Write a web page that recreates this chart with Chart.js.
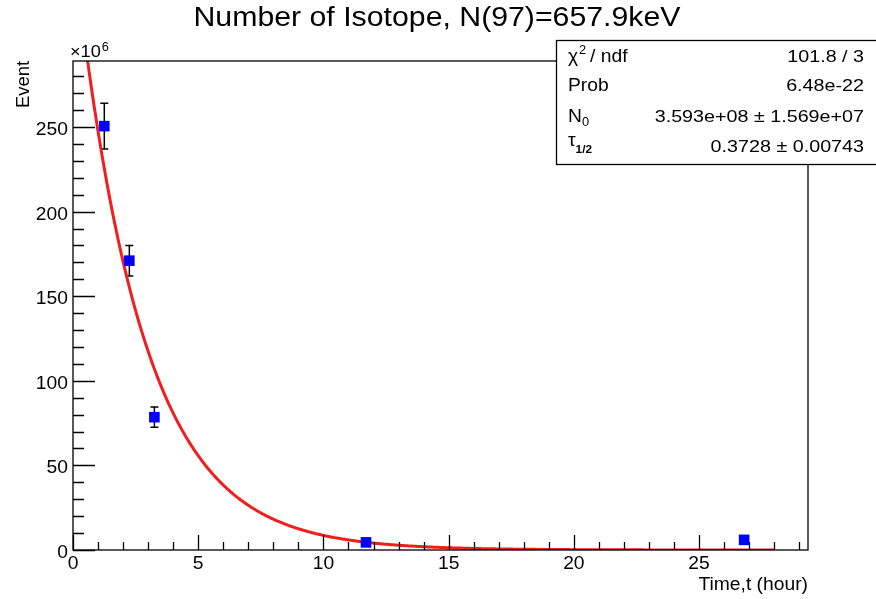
<!DOCTYPE html>
<html>
<head>
<meta charset="utf-8">
<script src="https://cdn.jsdelivr.net/npm/chart.js@4/dist/chart.umd.min.js"></script>
<style>
  html, body { margin: 0; padding: 0; background: #fff; }
  #wrap { width: 876px; height: 599px; position: relative; }
</style>
</head>
<body>
<div id="wrap"><canvas id="myChart" width="876" height="599"></canvas></div>
<script>
// measured points (time in hours, events in units of 1e6)
const timeHours = [1.25, 2.25, 3.25, 11.7, 26.8];
const events = [250.5, 171, 78.5, 4.5, 6];
const eventErr = [13.5, 9, 6, 0.8, 0.9];

// fit parameters from the stats box
const N0 = 359.3;          // 3.593e+08
const lambda = 0.3728;     // per hour
const fitRange = [0, 28];

const xTickValues = [0, 5, 10, 15, 20, 25];
const yTickValues = [0, 50, 100, 150, 200, 250];
const xMax = 29.35;
const yMax = 289;

const statsLabels = ['χ2 / ndf', 'Prob', 'N0', 'τ1/2'];
const statsValues = ['101.8 / 3', '6.48e-22', '3.593e+08 ± 1.569e+07', '0.3728 ± 0.00743'];

const FONT = '"Liberation Sans", Arial, Helvetica, sans-serif';
const SX = 1.07; // horizontal stretch of the ROOT-style text

// fit curve
const fitPoints = [];
for (let t = fitRange[0]; t <= fitRange[1] + 1e-9; t += 0.05) {
  fitPoints.push({x: t, y: N0 * Math.exp(-lambda * t)});
}

// draw text stretched horizontally, returns drawn width
function sText(ctx, text, x, y, size, align, sx, weight) {
  ctx.save();
  ctx.font = (weight || '') + ' ' + size + 'px ' + FONT;
  const w = ctx.measureText(text).width * sx;
  ctx.translate(x, y);
  ctx.scale(sx, 1);
  ctx.textAlign = align;
  ctx.textBaseline = 'alphabetic';
  ctx.fillText(text, 0, 0);
  ctx.restore();
  return w;
}

const rootStyle = {
  id: 'rootStyle',
  beforeDatasetsDraw(chart) {
    const {ctx, scales: {x, y}} = chart;
    ctx.save();
    // error bars
    ctx.strokeStyle = '#000';
    ctx.lineWidth = 1.5;
    timeHours.forEach((t, i) => {
      const px = x.getPixelForValue(t);
      const top = y.getPixelForValue(events[i] + eventErr[i]);
      const bot = y.getPixelForValue(events[i] - eventErr[i]);
      ctx.beginPath();
      ctx.moveTo(px, top); ctx.lineTo(px, bot);
      ctx.moveTo(px - 4, top); ctx.lineTo(px + 4, top);
      ctx.moveTo(px - 4, bot); ctx.lineTo(px + 4, bot);
      ctx.stroke();
    });
    ctx.restore();
  },
  afterDraw(chart) {
    const {ctx, chartArea: a, scales: {x, y}} = chart;
    ctx.save();
    ctx.strokeStyle = '#000';
    ctx.fillStyle = '#000';
    ctx.lineWidth = 1.3;
    // frame
    ctx.strokeRect(a.left, a.top, a.right - a.left, a.bottom - a.top);
    // y ticks (inside)
    ctx.beginPath();
    for (let v = 0; v <= yMax; v += 10) {
      const py = Math.round(y.getPixelForValue(v)) + 0.5;
      const len = v % 50 === 0 ? 22 : 11;
      ctx.moveTo(a.left, py); ctx.lineTo(a.left + len, py);
    }
    // x ticks (inside)
    for (let v = 0; v <= xMax; v += 1) {
      const px = Math.round(x.getPixelForValue(v)) + 0.5;
      const len = v % 5 === 0 ? 15 : 8;
      ctx.moveTo(px, a.bottom); ctx.lineTo(px, a.bottom - len);
    }
    ctx.stroke();

    // tick labels
    yTickValues.forEach(v => {
      sText(ctx, String(v), a.left - 5, y.getPixelForValue(v) + 8, 18, 'right', SX);
    });
    xTickValues.forEach(v => {
      sText(ctx, String(v), x.getPixelForValue(v), a.bottom + 19, 18, 'center', SX);
    });

    // title, stretched to its full width
    ctx.font = '27px ' + FONT;
    const titleText = 'Number of Isotope, N(97)=657.9keV';
    const tsx = 487 / ctx.measureText(titleText).width;
    sText(ctx, titleText, 437, 26, 27, 'center', tsx);

    // exponent label
    const w10 = sText(ctx, '×10', 70, 57, 17, 'left', SX);
    sText(ctx, '6', 70 + w10 + 1, 51, 12, 'left', SX);

    // axis titles
    sText(ctx, 'Time,t (hour)', a.right, 590, 18, 'right', SX);
    ctx.save();
    ctx.translate(29, a.top);
    ctx.rotate(-Math.PI / 2);
    sText(ctx, 'Event', 0, 0, 18, 'right', 1.02);
    ctx.restore();

    // stats box
    const bx = 556, by = 40, bw = 330, bh = 124;
    ctx.fillStyle = '#fff';
    ctx.fillRect(bx, by, bw, bh);
    ctx.lineWidth = 1.3;
    ctx.strokeRect(bx + 0.5, by + 0.5, bw, bh);
    ctx.fillStyle = '#000';
    const rowY = [62, 91, 122, 152];
    const lx = 568, rx = 864;
    statsLabels.forEach((lab, i) => {
      const yy = rowY[i];
      if (i === 0) {
        const w = sText(ctx, 'χ', lx, yy, 18, 'left', SX);
        sText(ctx, '2', lx + w + 1, yy - 8, 12, 'left', SX);
        sText(ctx, '/ ndf', lx + w + 12, yy, 18, 'left', SX);
      } else if (i === 2) {
        const w = sText(ctx, 'N', lx, yy, 18, 'left', SX);
        sText(ctx, '0', lx + w, yy + 4, 12, 'left', SX);
      } else if (i === 3) {
        const w = sText(ctx, 'τ', lx, yy - 6, 18, 'left', SX);
        sText(ctx, '1/2', lx + w, yy + 1, 11, 'left', SX, 'bold');
      } else {
        sText(ctx, lab, lx, yy, 18, 'left', SX);
      }
      sText(ctx, statsValues[i], rx, yy, 17, 'right', 1.16);
    });
    ctx.restore();
  }
};

const ctx = document.getElementById('myChart').getContext('2d');
const myChart = new Chart(ctx, {
  type: 'scatter',
  data: {
    datasets: [
      {
        label: 'fit',
        data: fitPoints,
        showLine: true,
        borderColor: '#f01e1e',
        borderWidth: 3,
        pointRadius: 0,
        tension: 0,
        order: 2
      },
      {
        label: 'data',
        data: timeHours.map((t, i) => ({x: t, y: events[i]})),
        pointStyle: 'rect',
        pointRadius: 7.5,
        backgroundColor: '#0000ff',
        borderColor: '#0000ff',
        borderWidth: 0,
        order: 1
      }
    ]
  },
  options: {
    responsive: false,
    animation: false,
    layout: { padding: { left: 0, top: 61, right: 68, bottom: 0 } },
    plugins: {
      legend: { display: false },
      tooltip: { enabled: false },
      title: { display: false }
    },
    scales: {
      x: {
        type: 'linear',
        min: 0,
        max: xMax,
        grid: { display: false, drawTicks: false },
        border: { display: false },
        afterFit: (s) => { s.height = 49; },
        afterBuildTicks: (s) => { s.ticks = xTickValues.map(v => ({value: v})); },
        ticks: { display: false }
      },
      y: {
        type: 'linear',
        min: 0,
        max: yMax,
        grid: { display: false, drawTicks: false },
        border: { display: false },
        afterFit: (s) => { s.width = 73; },
        afterBuildTicks: (s) => { s.ticks = yTickValues.map(v => ({value: v})); },
        ticks: { display: false }
      }
    }
  },
  plugins: [rootStyle]
});
</script>
</body>
</html>
